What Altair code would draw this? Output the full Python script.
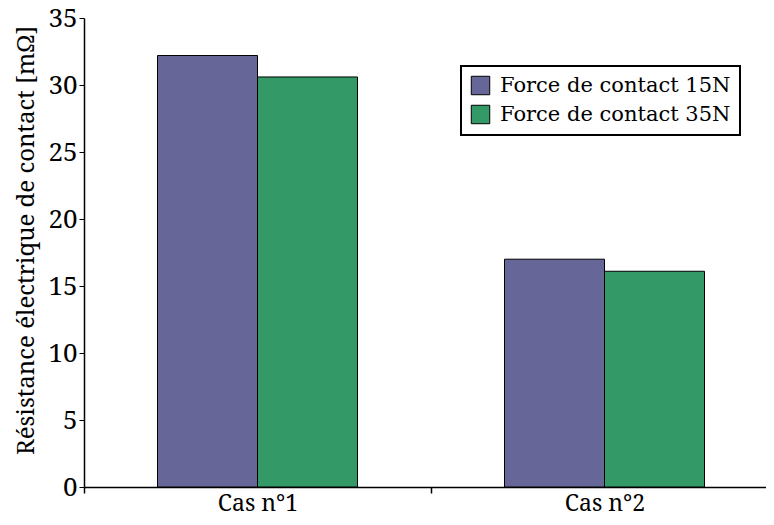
import altair as alt
import pandas as pd

cases = ["Cas n°1", "Cas n°2"]
series = ["Force de contact 15N", "Force de contact 35N"]
values_15N = [32.2, 17.0]
values_35N = [30.6, 16.1]
colors = ["#666699", "#339966"]

rows = []
for i, c in enumerate(cases):
    rows.append({"cas": c, "serie": series[0], "val": values_15N[i]})
    rows.append({"cas": c, "serie": series[1], "val": values_35N[i]})
df = pd.DataFrame(rows)

FONT = "Noto Serif"
LEGEND_FONT = "DejaVu Serif"

chart = alt.Chart(df).mark_bar(stroke="black", strokeWidth=1).encode(
    x=alt.X("cas:N", sort=cases, title=None,
            scale=alt.Scale(paddingInner=0, paddingOuter=0, range=[0, 694]),
            axis=alt.Axis(labelAngle=0, tickBand="extent", ticks=True, tickSize=6,
                          labelFont=FONT, labelFontSize=23, labelPadding=17,
                          labelBaseline="alphabetic",
                          domainColor="black", tickColor="black", labelColor="black",
                          domainWidth=1.5, tickWidth=1.5)),
    xOffset=alt.XOffset("serie:N", sort=series,
                        scale=alt.Scale(paddingInner=0, paddingOuter=0.735)),
    y=alt.Y("val:Q", title="Résistance électrique de contact [mΩ]",
            scale=alt.Scale(domain=[0, 35], nice=False),
            axis=alt.Axis(values=[0, 5, 10, 15, 20, 25, 30, 35], grid=False, tickSize=5,
                          labelFont=FONT, titleFont=FONT,
                          labelFontSize=26, labelPadding=2, titleFontSize=24,
                          titleFontWeight="normal", titlePadding=9, titleY=222,
                          domainColor="black", tickColor="black",
                          labelColor="black", titleColor="black", domainWidth=1.5)),
    color=alt.Color("serie:N", sort=series, title=None,
                    scale=alt.Scale(domain=series, range=colors),
                    legend=alt.Legend(orient="none", legendX=377, legendY=48,
                                      symbolType="square", symbolSize=340,
                                      symbolStrokeColor="black", symbolStrokeWidth=1,
                                      labelFont=LEGEND_FONT, labelFontSize=21,
                                      labelColor="black", labelLimit=400,
                                      strokeColor="black", fillColor="white",
                                      padding=9, rowPadding=6, labelOffset=9)),
).properties(
    width=682, height=469,
    autosize=alt.AutoSizeParams(type="none"),
    padding={"left": 76, "top": 10, "right": 0, "bottom": 30},
).configure(font=FONT).configure_view(stroke=None).configure_legend(strokeWidth=2)

chart.save("out.html", embed_options={"renderer": "svg", "actions": False})
